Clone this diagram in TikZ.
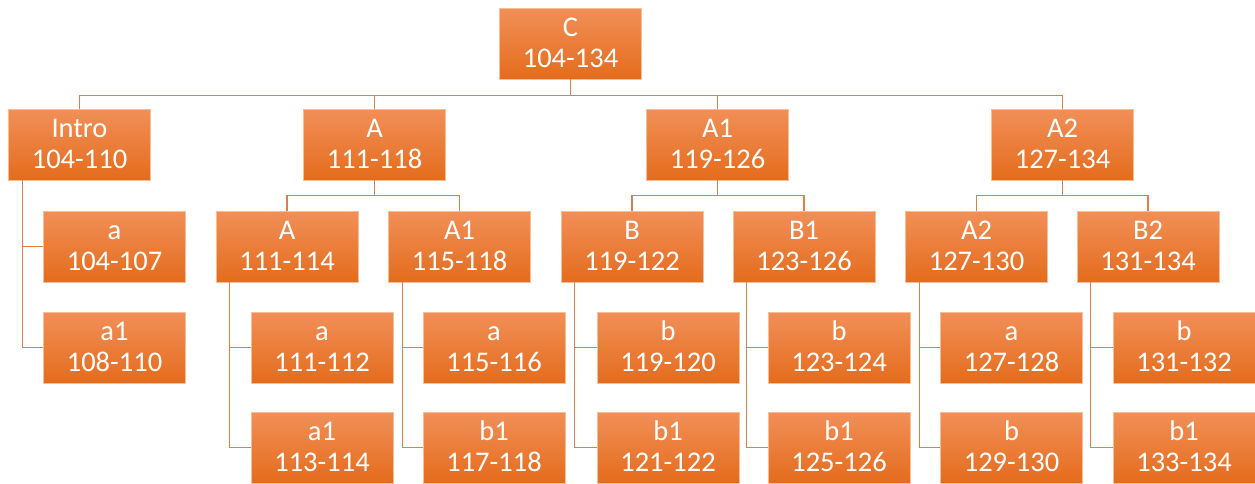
\documentclass[tikz,border=0pt]{standalone}
\usepackage{fontspec}
\setmainfont{Carlito}
\definecolor{boxtop}{RGB}{241,143,88}
\definecolor{boxbot}{RGB}{228,108,28}
\definecolor{boxedge}{RGB}{246,190,150}
\definecolor{linec}{RGB}{218,128,74}
\newcommand{\twolines}[2]{\rule{0pt}{27pt}#1\\\strut #2}
\tikzset{
  box/.style={rectangle, minimum width=142pt, minimum height=71pt, inner sep=0pt,
    top color=boxtop, bottom color=boxbot, draw=boxedge, line width=0.6pt,
    text=white, font=\fontsize{28.5}{31}\selectfont, align=center},
  conn/.style={draw=linec, line width=1.4pt}
}
\begin{document}
\begin{tikzpicture}[x=1pt,y=-1pt]
\useasboundingbox (0,0) rectangle (1255,483);
% level 0
\node[box] (c) at (570.5,43.5) {\twolines{C}{104-134}};
% level 1
\node[box] (intro) at (79.5,144.5) {\twolines{Intro}{104-110}};
\node[box] (a) at (374.5,144.5) {\twolines{A}{111-118}};
\node[box] (aone) at (717.5,144.5) {\twolines{A1}{119-126}};
\node[box] (atwo) at (1062.5,144.5) {\twolines{A2}{127-134}};
% intro children
\node[box] (ia) at (114.5,246.5) {\twolines{a}{104-107}};
\node[box] (iaone) at (114.5,347.5) {\twolines{a1}{108-110}};
% level 2
\node[box] (aa) at (287,246.5) {\twolines{A}{111-114}};
\node[box] (aaone) at (459.5,246.5) {\twolines{A1}{115-118}};
\node[box] (b) at (632,246.5) {\twolines{B}{119-122}};
\node[box] (bone) at (804,246.5) {\twolines{B1}{123-126}};
\node[box] (atwoa) at (976.5,246.5) {\twolines{A2}{127-130}};
\node[box] (btwo) at (1148,246.5) {\twolines{B2}{131-134}};
% level 3
\node[box] (aa1) at (322,347.5) {\twolines{a}{111-112}};
\node[box] (aa2) at (322,447.5) {\twolines{a1}{113-114}};
\node[box] (ab1) at (494,347.5) {\twolines{a}{115-116}};
\node[box] (ab2) at (494,447.5) {\twolines{b1}{117-118}};
\node[box] (b1) at (668,347.5) {\twolines{b}{119-120}};
\node[box] (b2) at (668,447.5) {\twolines{b1}{121-122}};
\node[box] (bb1) at (839,347.5) {\twolines{b}{123-124}};
\node[box] (bb2) at (839,447.5) {\twolines{b1}{125-126}};
\node[box] (c1) at (1011.5,347.5) {\twolines{a}{127-128}};
\node[box] (c2) at (1011.5,447.5) {\twolines{b}{129-130}};
\node[box] (d1) at (1184,347.5) {\twolines{b}{131-132}};
\node[box] (d2) at (1184,447.5) {\twolines{b1}{133-134}};
% connectors
\foreach \t in {intro,a,aone,atwo}
  \draw[conn] (c.south) -- ++(0,16) -| (\t.north);
\foreach \p/\l/\r in {a/aa/aaone, aone/b/bone, atwo/atwoa/btwo}{
  \draw[conn] (\p.south) -- ++(0,15) -| (\l.north);
  \draw[conn] (\p.south) -- ++(0,15) -| (\r.north);
}
\foreach \p/\u/\v in {intro/ia/iaone, aa/aa1/aa2, aaone/ab1/ab2, b/b1/b2, bone/bb1/bb2, atwoa/c1/c2, btwo/d1/d2}{
  \draw[conn] ([xshift=14pt]\p.south west) |- (\u.west);
  \draw[conn] ([xshift=14pt]\p.south west) |- (\v.west);
}
\end{tikzpicture}
\end{document}
